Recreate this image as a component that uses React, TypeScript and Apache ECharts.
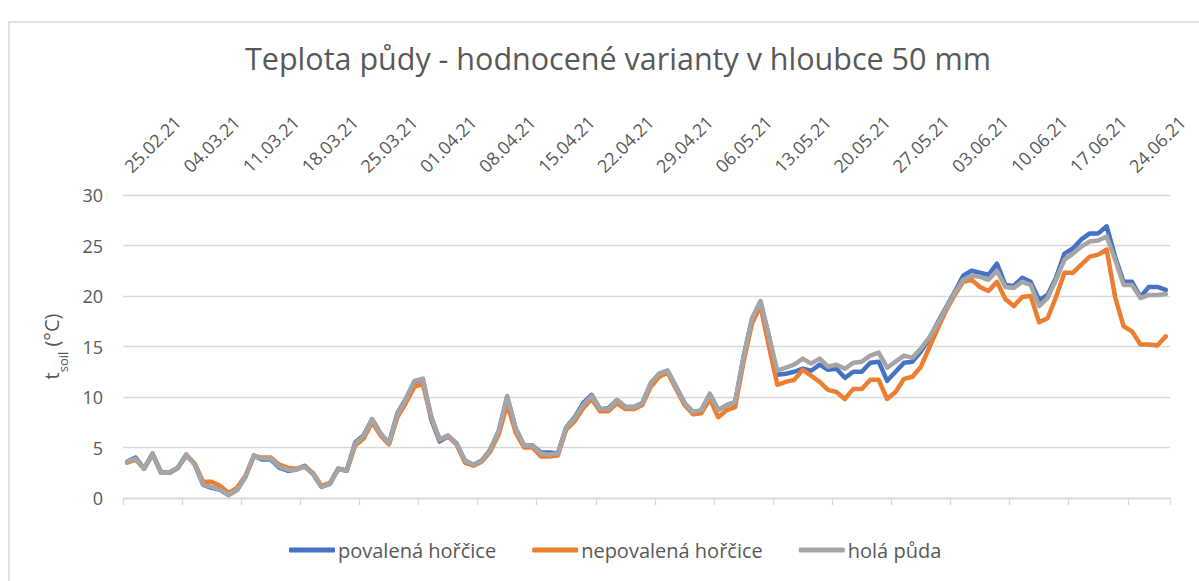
import React, { useEffect, useRef } from "react";
import * as echarts from "echarts";

const titleText = "Teplota půdy - hodnocené varianty v hloubce 50 mm";
const seriesNames = ["povalená hořčice", "nepovalená hořčice", "holá půda"];
const seriesColors = ["#4472C4", "#ED7D31", "#A5A5A5"];

// daily dates 25.02.21 .. 28.06.21
const startDate = Date.UTC(2021, 1, 25);
const dayCount = 124;
const dates: string[] = [];
for (let i = 0; i < dayCount; i++) {
  const d = new Date(startDate + i * 86400000);
  const dd = String(d.getUTCDate()).padStart(2, "0");
  const mm = String(d.getUTCMonth() + 1).padStart(2, "0");
  dates.push(`${dd}.${mm}.21`);
}

const yTicks = [0, 5, 10, 15, 20, 25, 30];

// holá půda
const hola = [
  3.6, 3.9, 2.9, 4.4, 2.5, 2.5, 3.0, 4.3, 3.3, 1.3,
  1.1, 0.8, 0.3, 0.8, 2.1, 4.2, 3.9, 3.9, 3.1, 2.8,
  2.8, 3.1, 2.4, 1.1, 1.4, 2.9, 2.7, 5.4, 6.1, 7.8,
  6.4, 5.4, 8.3, 9.8, 11.6, 11.8, 8.1, 5.8, 6.2, 5.4,
  3.7, 3.3, 3.7, 4.8, 6.7, 10.1, 6.9, 5.2, 5.2, 4.4,
  4.3, 4.4, 7.0, 7.9, 9.2, 10.1, 8.8, 8.8, 9.7, 9.0,
  9.0, 9.4, 11.4, 12.3, 12.6, 11.0, 9.4, 8.5, 8.7, 10.3,
  8.7, 9.2, 9.5, 14.0, 17.8, 19.5, 16.0, 12.6, 12.9, 13.2,
  13.8, 13.3, 13.8, 13.0, 13.2, 12.8, 13.4, 13.5, 14.1, 14.4,
  12.9, 13.5, 14.1, 13.9, 14.8, 15.9, 17.3, 18.8, 20.3, 21.6,
  22.0, 21.9, 21.6, 22.5, 20.9, 20.8, 21.4, 21.1, 19.0, 19.8,
  21.6, 23.6, 24.2, 24.9, 25.4, 25.5, 25.9, 23.6, 21.1, 21.1,
  19.8, 20.1, 20.1, 20.2,
];

// povalená hořčice
const povalena = [
  3.6, 4.0, 2.9, 4.4, 2.5, 2.5, 3.0, 4.3, 3.3, 1.3,
  1.0, 0.8, 0.3, 0.8, 2.1, 4.2, 3.8, 3.8, 3.0, 2.7,
  2.8, 3.2, 2.4, 1.1, 1.4, 2.9, 2.7, 5.5, 6.2, 7.8,
  6.4, 5.4, 8.4, 9.8, 11.5, 11.8, 7.8, 5.6, 6.1, 5.4,
  3.7, 3.3, 3.7, 4.8, 6.6, 10.0, 6.9, 5.2, 5.2, 4.5,
  4.5, 4.4, 7.0, 8.0, 9.4, 10.2, 8.8, 8.9, 9.7, 9.0,
  9.0, 9.4, 11.3, 12.3, 12.6, 11.0, 9.4, 8.5, 8.7, 10.3,
  8.7, 9.2, 9.5, 14.0, 17.7, 19.4, 16.0, 12.2, 12.3, 12.5,
  12.8, 12.6, 13.2, 12.7, 12.8, 11.9, 12.5, 12.5, 13.4, 13.5,
  11.6, 12.5, 13.4, 13.5, 14.5, 15.8, 17.4, 18.9, 20.4, 22.0,
  22.5, 22.3, 22.1, 23.2, 21.1, 21.0, 21.8, 21.4, 19.6, 20.1,
  21.8, 24.2, 24.7, 25.6, 26.2, 26.2, 26.9, 23.9, 21.4, 21.4,
  19.9, 20.9, 20.9, 20.6,
];

// nepovalená hořčice
const nepovalena = [
  3.5, 3.8, 2.9, 4.3, 2.6, 2.5, 3.0, 4.2, 3.4, 1.6,
  1.6, 1.2, 0.5, 1.0, 2.2, 4.1, 4.0, 4.0, 3.3, 3.0,
  2.9, 3.1, 2.5, 1.2, 1.5, 2.9, 2.7, 5.2, 5.9, 7.5,
  6.2, 5.3, 8.0, 9.4, 11.0, 11.3, 8.0, 5.8, 6.1, 5.3,
  3.5, 3.2, 3.6, 4.6, 6.3, 9.3, 6.5, 5.0, 5.0, 4.1,
  4.1, 4.2, 6.8, 7.6, 8.9, 9.8, 8.6, 8.6, 9.4, 8.8,
  8.8, 9.2, 11.0, 12.0, 12.4, 10.8, 9.2, 8.3, 8.4, 9.8,
  8.0, 8.7, 9.0, 13.5, 17.3, 19.0, 15.0, 11.2, 11.5, 11.7,
  12.7, 12.1, 11.5, 10.7, 10.5, 9.8, 10.8, 10.8, 11.7, 11.7,
  9.8, 10.5, 11.8, 12.0, 13.0, 14.9, 16.8, 18.6, 20.1, 21.4,
  21.6, 20.9, 20.5, 21.4, 19.7, 19.0, 19.9, 20.0, 17.4, 17.8,
  19.9, 22.3, 22.3, 23.1, 23.9, 24.1, 24.6, 19.9, 17.0, 16.5,
  15.2, 15.2, 15.1, 16.0,
];

const seriesData = [povalena, nepovalena, hola];

const FONT = "'Open Sans', Lato, sans-serif";
const TEXT = "#595959";
const GRID = "#D9D9D9";

export default function App() {
  const ref = useRef<HTMLDivElement>(null);
  useEffect(() => {
    if (!ref.current) return;
    const chart = echarts.init(ref.current, undefined, { renderer: "svg" });
    const every7 = (index: number) => index % 7 === 0;
    chart.setOption({
      animation: false,
      backgroundColor: "#ffffff",
      textStyle: { fontFamily: FONT },
      graphic: [
        {
          type: "rect",
          x: 9,
          y: 22,
          shape: { x: 0, y: 0, width: 1400, height: 800 },
          style: { fill: "none", stroke: GRID, lineWidth: 1.5 },
          silent: true,
        },
      ],
      title: {
        text: titleText,
        left: 240,
        top: 37,
        textStyle: { fontFamily: FONT, fontSize: 30.5, fontWeight: "normal", color: TEXT },
      },
      grid: { left: 123, right: 29, top: 195, bottom: 83 },
      legend: {
        data: seriesNames,
        left: 284,
        top: 535,
        itemWidth: 46,
        itemHeight: 5,
        itemGap: 36,
        icon: "roundRect",
        textStyle: { fontFamily: FONT, fontSize: 20, color: TEXT, padding: [0, 0, 0, -2] },
      },
      xAxis: [
        {
          type: "category",
          data: dates,
          position: "bottom",
          boundaryGap: true,
          axisLine: { show: true, lineStyle: { color: GRID, width: 1.3 } },
          axisTick: { show: true, interval: every7, length: 7, lineStyle: { color: GRID, width: 1.3 } },
          axisLabel: { show: false },
          splitLine: { show: false },
        },
        {
          type: "category",
          data: dates,
          position: "top",
          boundaryGap: true,
          axisLine: { show: false },
          axisTick: { show: false },
          axisLabel: {
            show: true,
            interval: every7,
            rotate: -45,
            margin: 26,
            color: TEXT,
            fontFamily: FONT,
            fontSize: 18,
          },
          splitLine: { show: false },
        },
      ],
      yAxis: {
        type: "value",
        min: yTicks[0],
        max: yTicks[yTicks.length - 1],
        interval: 5,
        axisLine: { show: false },
        axisTick: { show: false },
        axisLabel: { color: TEXT, fontFamily: FONT, fontSize: 18, margin: 20 },
        splitLine: { lineStyle: { color: GRID, width: 1.3 } },
        name: "{t|t}{s|soil}{t| (°C)}",
        nameLocation: "middle",
        nameRotate: 90,
        nameGap: 54,
        nameTextStyle: {
          color: TEXT,
          fontFamily: FONT,
          rich: {
            t: { fontSize: 20, color: TEXT, fontFamily: FONT, lineHeight: 28, verticalAlign: "top" },
            s: { fontSize: 13, color: TEXT, fontFamily: FONT, lineHeight: 28, verticalAlign: "bottom" },
          },
        },
      },
      series: seriesNames.map((name, k) => ({
        name,
        type: "line",
        xAxisIndex: 0,
        data: seriesData[k],
        symbol: "none",
        color: seriesColors[k],
        lineStyle: { width: 4.5, color: seriesColors[k], cap: "round", join: "round" },
        z: 2 + k,
      })),
    });
    return () => chart.dispose();
  }, []);
  return (
    <div
      ref={ref}
      style={{ position: "fixed", left: 0, top: 0, width: 1199, height: 581 }}
    />
  );
}
